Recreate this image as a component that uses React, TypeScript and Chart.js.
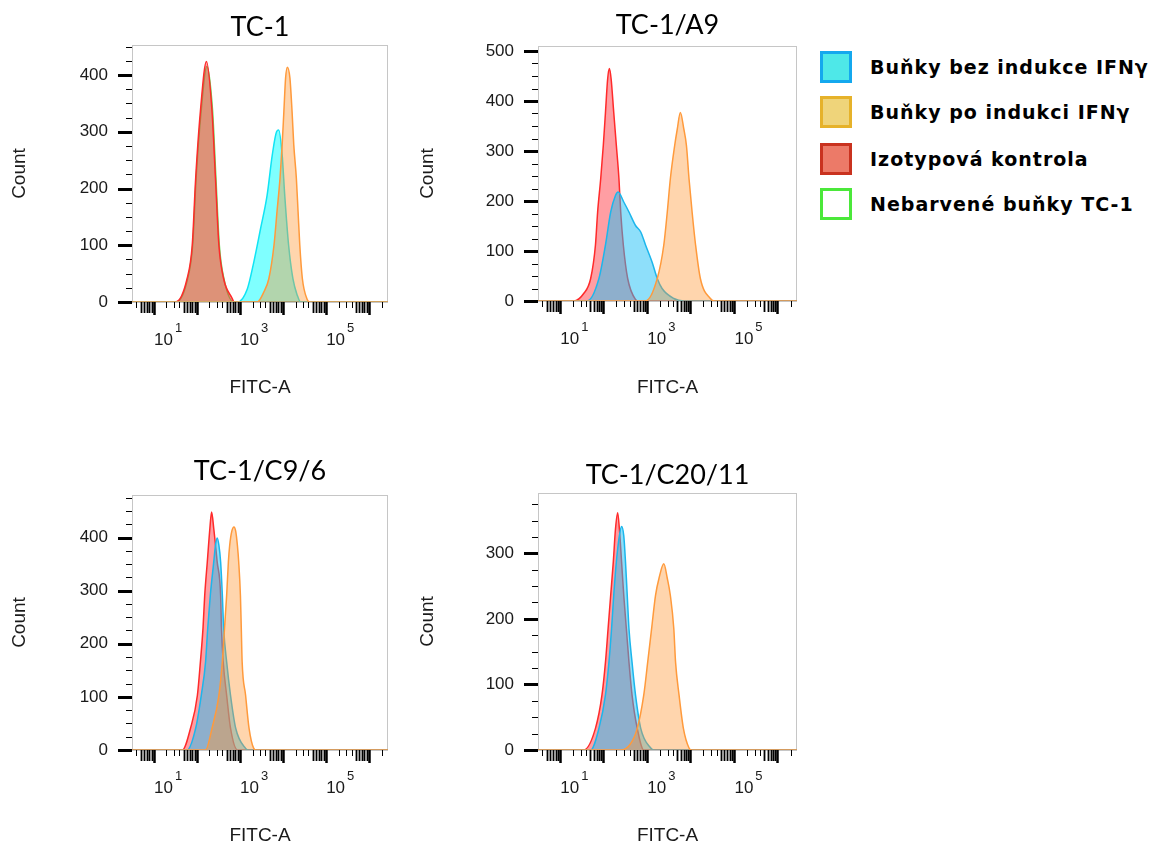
import React, { useEffect, useRef } from 'react';
import { Chart, registerables } from 'chart.js';

Chart.register(...registerables);

type Pt = [number, number];

// ---------- labels ----------
const PANEL_TITLES = ['TC-1', 'TC-1/A9', 'TC-1/C9/6', 'TC-1/C20/11'];
const SERIES_LABELS = [
  'Buňky bez indukce IFNγ',
  'Buňky po indukci IFNγ',
  'Izotypová kontrola',
  'Nebarvené buňky TC-1',
];
const X_TITLE = 'FITC-A';
const Y_TITLE = 'Count';
const X_LABEL_BASE = '10';
const X_LABEL_EXPONENTS: Record<number, string> = { 1: '1', 3: '3', 5: '5' };

// x axis: log10(FITC-A) ; y axis: count
const X_MIN = 0.5;
const X_MAX = 6.45;
const Y_MAX = [453, 510, 480, 392];
const Y_MAJOR_STEP = 100;
const Y_MINOR_STEP = 25;

// ---------- data: [log10 FITC-A, count] ----------
const TC1_BEZ: Pt[] = [[0.5, 0], [2.95, 0], [3.18, 23], [3.33, 70], [3.49, 130], [3.64, 188], [3.76, 259], [3.86, 300], [3.91, 303], [3.99, 259], [4.05, 188], [4.14, 100], [4.24, 41], [4.34, 12], [4.42, 0], [6.45, 0]];
const TC1_PO: Pt[] = [[0.5, 0], [3.41, 0], [3.56, 17], [3.68, 41], [3.80, 100], [3.87, 159], [3.94, 218], [3.99, 277], [4.03, 336], [4.07, 395], [4.11, 414], [4.17, 395], [4.22, 336], [4.26, 277], [4.32, 218], [4.36, 159], [4.40, 100], [4.46, 41], [4.57, 5], [4.63, 0], [6.45, 0]];
const TC1_IZO: Pt[] = [[0.5, 0], [1.51, 0], [1.78, 41], [1.90, 100], [1.98, 218], [2.09, 336], [2.23, 424], [2.36, 336], [2.44, 218], [2.52, 100], [2.63, 41], [2.83, 6], [2.87, 0], [6.45, 0]];
const TC1_NEB: Pt[] = [[0.5, 0], [1.53, 0], [1.79, 40], [1.91, 100], [1.99, 218], [2.10, 330], [2.24, 415], [2.37, 340], [2.45, 220], [2.53, 100], [2.64, 40], [2.87, 0], [6.45, 0]];

const A9_BEZ: Pt[] = [[0.5, 0], [1.63, 0], [1.90, 45], [2.05, 112], [2.17, 178], [2.28, 211], [2.34, 218], [2.47, 198], [2.59, 178], [2.74, 151], [2.86, 138], [2.97, 112], [3.12, 78], [3.24, 45], [3.35, 25], [3.62, 5], [3.85, 0], [6.45, 0]];
const A9_PO: Pt[] = [[0.5, 0], [2.97, 0], [3.24, 45], [3.39, 112], [3.47, 178], [3.54, 244], [3.64, 311], [3.70, 344], [3.77, 377], [3.85, 344], [3.91, 311], [3.97, 244], [4.04, 178], [4.12, 112], [4.23, 45], [4.46, 5], [4.56, 0], [6.45, 0]];
const A9_IZO: Pt[] = [[0.5, 0], [1.32, 0], [1.55, 15], [1.71, 45], [1.82, 112], [1.87, 178], [1.94, 244], [2.00, 311], [2.05, 377], [2.10, 444], [2.14, 465], [2.18, 444], [2.24, 377], [2.30, 311], [2.36, 244], [2.40, 178], [2.46, 112], [2.56, 45], [2.74, 3], [2.81, 0], [6.45, 0]];

const C96_BEZ: Pt[] = [[0.5, 0], [1.78, 0], [1.98, 41], [2.11, 103], [2.21, 166], [2.26, 229], [2.32, 291], [2.40, 354], [2.44, 385], [2.48, 399], [2.52, 385], [2.56, 354], [2.60, 291], [2.63, 229], [2.70, 166], [2.79, 103], [2.91, 41], [3.14, 3], [3.21, 0], [6.45, 0]];
const C96_PO: Pt[] = [[0.5, 0], [2.21, 0], [2.36, 41], [2.52, 103], [2.60, 166], [2.65, 229], [2.70, 291], [2.74, 354], [2.77, 385], [2.82, 412], [2.87, 420], [2.91, 412], [2.95, 385], [2.98, 354], [3.02, 291], [3.04, 229], [3.06, 166], [3.14, 103], [3.22, 41], [3.33, 3], [3.39, 0], [6.45, 0]];
const C96_IZO: Pt[] = [[0.5, 0], [1.67, 0], [1.86, 41], [2.02, 103], [2.09, 166], [2.15, 229], [2.19, 291], [2.25, 354], [2.31, 417], [2.35, 448], [2.40, 417], [2.48, 354], [2.56, 291], [2.58, 229], [2.62, 166], [2.70, 103], [2.79, 41], [2.95, 0], [6.45, 0]];

const C2011_BEZ: Pt[] = [[0.5, 0], [1.71, 0], [1.90, 33], [2.05, 84], [2.13, 134], [2.19, 185], [2.24, 236], [2.30, 287], [2.37, 327], [2.42, 341], [2.47, 327], [2.51, 287], [2.55, 236], [2.59, 185], [2.66, 134], [2.74, 84], [2.86, 33], [3.09, 3], [3.16, 0], [6.45, 0]];
const C2011_PO: Pt[] = [[0.5, 0], [2.40, 0], [2.61, 8], [2.78, 33], [2.93, 84], [3.02, 134], [3.11, 185], [3.20, 236], [3.28, 262], [3.39, 284], [3.47, 262], [3.54, 236], [3.62, 185], [3.66, 134], [3.74, 84], [3.84, 33], [3.97, 3], [4.03, 0], [6.45, 0]];
const C2011_IZO: Pt[] = [[0.5, 0], [1.55, 0], [1.82, 33], [1.97, 84], [2.05, 134], [2.11, 185], [2.17, 236], [2.23, 287], [2.28, 337], [2.33, 362], [2.37, 337], [2.42, 287], [2.47, 236], [2.53, 185], [2.59, 134], [2.66, 84], [2.78, 33], [2.93, 0], [6.45, 0]];

// per panel: [bez indukce, po indukci, izotyp, nebarvené]
const PANEL_SERIES: (Pt[] | null)[][] = [
  [TC1_BEZ, TC1_PO, TC1_IZO, TC1_NEB],
  [A9_BEZ, A9_PO, A9_IZO, null],
  [C96_BEZ, C96_PO, C96_IZO, null],
  [C2011_BEZ, C2011_PO, C2011_IZO, null],
];

// ---------- styles ----------
const BLUE_STYLE = [
  { line: '#10e4f4', fill: 'rgba(0,255,255,0.5)' },
  { line: '#1cb6ec', fill: 'rgba(30,192,245,0.5)' },
  { line: '#1cb6ec', fill: 'rgba(30,192,245,0.5)' },
  { line: '#1cb6ec', fill: 'rgba(30,192,245,0.5)' },
];
const ORANGE_STYLE = { line: '#ff9a3c', fill: 'rgba(255,150,50,0.4)' };
const RED_STYLE = { line: '#ff2a2a', fill: 'rgba(255,40,50,0.45)' };
const GREEN_STYLE = { line: '#64dc5a', fill: 'rgba(100,200,60,0.4)' };

const LEGEND_STYLE = [
  { fill: '#4ee8e8', border: '#14a8ee' },
  { fill: '#efd47a', border: '#e6b22a' },
  { fill: '#ec7a68', border: '#c9321f' },
  { fill: '#ffffff', border: '#4be83a' },
];

const LAYOUT = [
  { left: 0, top: 0, width: 400, height: 420, padRight: 12, yAxisW: 132, xAxisH: 118, tTop: 10.8, tBottom: 1.8, yTitlePad: 10.5, xTitlePad: 22.5 },
  { left: 400, top: 0, width: 410, height: 420, padRight: 13, yAxisW: 138, xAxisH: 119, tTop: 8.8, tBottom: 4.8, yTitlePad: 18.5, xTitlePad: 23 },
  { left: 0, top: 440, width: 400, height: 405, padRight: 12, yAxisW: 132, xAxisH: 95, tTop: 14.8, tBottom: 7.8, yTitlePad: 10.5, xTitlePad: 0 },
  { left: 400, top: 440, width: 410, height: 405, padRight: 13, yAxisW: 138, xAxisH: 95, tTop: 18.8, tBottom: 1.8, yTitlePad: 18.5, xTitlePad: 0 },
];

const AXIS_FONT = 'Liberation Sans';
const X_LABEL_PAD = 28;
const Y_LABEL_PAD = 24;
const X_LABEL_OFFSET = 10;

function decadeOf(v: number): number | null {
  const r = Math.round(v);
  return Math.abs(v - r) < 1e-9 && X_LABEL_EXPONENTS[r] ? r : null;
}

const axisDecor = {
  id: 'axisDecor',
  beforeDatasetsDraw(chart: any) {
    const { ctx, chartArea } = chart;
    ctx.save();
    ctx.strokeStyle = '#c6c6c6';
    ctx.lineWidth = 1;
    ctx.strokeRect(chartArea.left + 0.5, chartArea.top + 0.5, chartArea.right - chartArea.left - 1, chartArea.bottom - chartArea.top);
    ctx.restore();
  },
  afterDraw(chart: any) {
    const { ctx, chartArea, scales } = chart;
    ctx.save();
    ctx.strokeStyle = '#000';
    scales.y.ticks.forEach((t: any) => {
      const y = Math.round(scales.y.getPixelForValue(t.value)) + 0.5;
      const major = t.value % Y_MAJOR_STEP === 0;
      ctx.lineWidth = major ? 3 : 1;
      ctx.beginPath();
      ctx.moveTo(chartArea.left - (major ? 14 : 6), y);
      ctx.lineTo(chartArea.left, y);
      ctx.stroke();
    });
    scales.x.ticks.forEach((t: any) => {
      const x = Math.round(scales.x.getPixelForValue(t.value)) + 0.5;
      const frac = t.value - Math.floor(t.value + 1e-9);
      const k = Math.round(Math.pow(10, frac));
      let len = 6;
      let w = 1;
      if (k === 1 || k === 10) { len = 13; w = 2.5; }
      else if (k >= 5) { len = 11; w = 1.8; }
      ctx.lineWidth = w;
      ctx.beginPath();
      ctx.moveTo(x, chartArea.bottom);
      ctx.lineTo(x, chartArea.bottom + len);
      ctx.stroke();
    });
    // superscript exponents of the decade labels
    ctx.fillStyle = '#1a1a1a';
    scales.x.ticks.forEach((t: any) => {
      const d = decadeOf(t.value);
      if (d === null) return;
      ctx.font = `17px "${AXIS_FONT}"`;
      const baseW = ctx.measureText(X_LABEL_BASE).width;
      const cx = scales.x.getPixelForValue(t.value) + X_LABEL_OFFSET;
      ctx.font = `13px "${AXIS_FONT}"`;
      ctx.textAlign = 'left';
      ctx.textBaseline = 'top';
      ctx.fillText(X_LABEL_EXPONENTS[d], cx + baseW / 2 + 2, chartArea.bottom + X_LABEL_PAD - 8);
    });
    ctx.restore();
  },
};

function makeDataset(label: string, pts: Pt[], style: { line: string; fill: string }, order: number) {
  return {
    label,
    data: pts.map(([x, y]) => ({ x, y })),
    borderColor: style.line,
    backgroundColor: style.fill,
    borderWidth: 1.5,
    fill: 'origin',
    pointRadius: 0,
    cubicInterpolationMode: 'monotone' as const,
    order,
  };
}

function Panel({ index }: { index: number }) {
  const ref = useRef<HTMLCanvasElement>(null);
  const L = LAYOUT[index];
  useEffect(() => {
    if (!ref.current) return;
    const [bez, po, izo, neb] = PANEL_SERIES[index];
    const datasets: any[] = [];
    if (po) datasets.push(makeDataset(SERIES_LABELS[1], po, ORANGE_STYLE, 0));
    if (bez) datasets.push(makeDataset(SERIES_LABELS[0], bez, BLUE_STYLE[index], 1));
    if (izo) datasets.push(makeDataset(SERIES_LABELS[2], izo, RED_STYLE, 2));
    if (neb) datasets.push(makeDataset(SERIES_LABELS[3], neb, GREEN_STYLE, 3));
    const yMax = Y_MAX[index];
    const chart = new Chart(ref.current, {
      type: 'line',
      data: { datasets },
      plugins: [axisDecor],
      options: {
        animation: false,
        responsive: false,
        maintainAspectRatio: false,
        layout: { padding: { left: 0, top: 0, bottom: 0, right: L.padRight } },
        plugins: {
          legend: { display: false },
          tooltip: { enabled: false },
          title: {
            display: true,
            text: PANEL_TITLES[index],
            fullSize: false,
            color: '#000',
            font: { family: 'Lato', size: 27, weight: 'normal', lineHeight: 1.2 },
            padding: { top: L.tTop, bottom: L.tBottom },
          },
        },
        scales: {
          x: {
            type: 'linear',
            min: X_MIN,
            max: X_MAX,
            grid: { display: false, drawOnChartArea: false, drawTicks: true, tickLength: X_LABEL_PAD, tickColor: 'rgba(0,0,0,0)' },
            border: { display: false },
            afterBuildTicks: (s: any) => {
              const ticks: any[] = [];
              for (let n = 0; n <= 7; n++) {
                for (let k = 1; k <= 9; k++) {
                  const v = n + Math.log10(k);
                  if (v >= X_MIN && v <= X_MAX) ticks.push({ value: v });
                }
              }
              s.ticks = ticks;
            },
            afterFit: (s: any) => { s.height = L.xAxisH; },
            ticks: {
              autoSkip: false,
              maxRotation: 0,
              minRotation: 0,
              padding: 0,
              labelOffset: X_LABEL_OFFSET,
              color: '#1a1a1a',
              font: { family: AXIS_FONT, size: 17 },
              callback: (v: any) => (decadeOf(v) !== null ? X_LABEL_BASE : ''),
            },
            title: {
              display: true,
              text: X_TITLE,
              color: '#1a1a1a',
              font: { family: AXIS_FONT, size: 19, lineHeight: 1 },
              padding: { top: 0, bottom: L.xTitlePad },
            },
          },
          y: {
            type: 'linear',
            min: 0,
            max: yMax,
            grid: { display: false, drawOnChartArea: false, drawTicks: true, tickLength: Y_LABEL_PAD, tickColor: 'rgba(0,0,0,0)' },
            border: { display: false },
            afterBuildTicks: (s: any) => {
              const ticks: any[] = [];
              for (let v = 0; v <= yMax; v += Y_MINOR_STEP) ticks.push({ value: v });
              s.ticks = ticks;
            },
            afterFit: (s: any) => { s.width = L.yAxisW; },
            ticks: {
              autoSkip: false,
              padding: 0,
              color: '#1a1a1a',
              font: { family: AXIS_FONT, size: 17 },
              callback: (v: any) => (v % Y_MAJOR_STEP === 0 ? String(v) : ''),
            },
            title: {
              display: true,
              text: Y_TITLE,
              color: '#1a1a1a',
              font: { family: AXIS_FONT, size: 19, lineHeight: 1 },
              padding: { top: L.yTitlePad, bottom: 0 },
            },
          },
        },
      } as any,
    });
    return () => chart.destroy();
  }, [index]);
  return (
    <canvas
      ref={ref}
      width={L.width}
      height={L.height}
      style={{ position: 'absolute', left: L.left, top: L.top, width: L.width, height: L.height }}
    />
  );
}

const LEGEND_ROW_CENTERS = [67, 112, 159, 204];

export default function App() {
  return (
    <div style={{ position: 'absolute', left: 0, top: 0, width: 1158, height: 845, overflow: 'hidden', background: '#fff' }}>
      {PANEL_TITLES.map((_, i) => (
        <Panel key={i} index={i} />
      ))}
      {SERIES_LABELS.map((label, i) => (
        <div key={label} style={{ position: 'absolute', left: 820, top: LEGEND_ROW_CENTERS[i] - 16, height: 32, display: 'flex', alignItems: 'center' }}>
          <div style={{ width: 26, height: 26, background: LEGEND_STYLE[i].fill, border: `3px solid ${LEGEND_STYLE[i].border}` }} />
          <span style={{ marginLeft: 18, fontFamily: '"DejaVu Sans", sans-serif', fontWeight: 'bold', fontSize: 19, letterSpacing: 1, color: '#000', whiteSpace: 'nowrap' }}>{label}</span>
        </div>
      ))}
    </div>
  );
}
